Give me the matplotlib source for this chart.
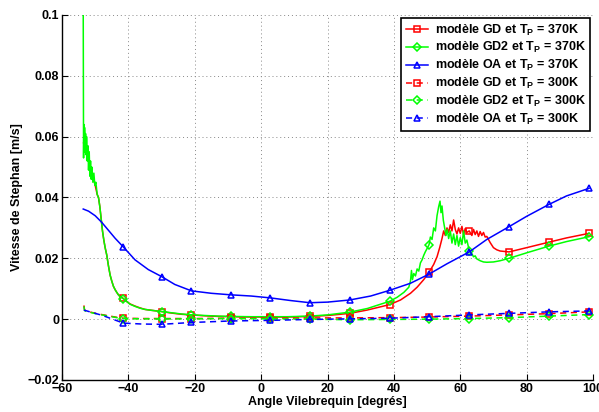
import numpy as np
import matplotlib
matplotlib.use("Agg")
import matplotlib.pyplot as plt

plt.rcParams['font.family'] = ['Liberation Sans', 'DejaVu Sans']
plt.rcParams['font.weight'] = 'bold'
plt.rcParams['mathtext.fontset'] = 'custom'
plt.rcParams['mathtext.rm'] = 'Liberation Sans:bold'
plt.rcParams['mathtext.it'] = 'Liberation Sans:bold'
plt.rcParams['mathtext.bf'] = 'Liberation Sans:bold'

# angles where the markers sit
mk_x = [-41.5, -30, -21, -9.2, 2.7, 14.7, 26.7, 38.8, 50.6, 62.7, 74.7, 86.7, 98.8]

# GD2, Tp = 370K (green, solid)
gd2_370_x = [-53.6, -53.5, -53.4, -53.3, -53.2, -53.0, -52.9, -52.7, -52.6, -52.4, -52.2, -52.0,
             -51.8, -51.6, -51.4, -51.2, -51.0, -50.7, -50.4, -50.1, -49.8, -49.4, -49.0, -48.6,
             -48.2, -47.8, -47.4, -47.0, -46.5, -46.0, -45.5, -45.0, -44.5, -44.0, -43.5, -43.0,
             -42.5, -41.5, -40.5, -39.5, -38.0, -36.5, -35.0, -33.0, -31.5, -30, -27, -24, -21,
             -17, -13, -9.2, -3, 2.7, 8, 14.7, 20, 26.7, 32, 38.8, 41, 43, 44.5, 45, 45.3, 45.6,
             46, 46.5, 47, 47.5, 48, 48.5, 49, 49.5, 50, 50.6, 51, 51.5, 52, 52.5, 53, 53.5, 53.9,
             54.2, 54.5, 54.9, 55.3, 55.7, 56.1, 56.5, 57, 57.5, 58, 58.5, 59, 59.5, 60, 60.5, 61,
             61.5, 62, 62.7, 63.5, 64, 64.5, 65, 66, 67, 68, 70, 72, 74.7, 80, 86.7, 92, 98.8]
gd2_370_y = [0.100, 0.053, 0.064, 0.055, 0.063, 0.056, 0.061, 0.054, 0.060, 0.052, 0.057, 0.049,
             0.055, 0.047, 0.052, 0.046, 0.050, 0.045, 0.048, 0.044, 0.045, 0.041, 0.040, 0.037,
             0.033, 0.029, 0.026, 0.0235, 0.021, 0.0175, 0.0145, 0.0125, 0.0108, 0.0097, 0.0088,
             0.0080, 0.0074, 0.0067, 0.0058, 0.0049, 0.0042, 0.0036, 0.0032, 0.0029, 0.0027,
             0.0025, 0.0021, 0.0017, 0.0014, 0.0012, 0.0010, 0.0009, 0.0008, 0.0008, 0.0008,
             0.0010, 0.0014, 0.0023, 0.0035, 0.0059, 0.0072, 0.0088, 0.0105, 0.0125, 0.0160,
             0.0130, 0.0150, 0.0142, 0.0165, 0.0158, 0.0185, 0.0195, 0.0210, 0.0222, 0.0232,
             0.0245, 0.0270, 0.0262, 0.0300, 0.0290, 0.0340, 0.0370, 0.0388, 0.0350, 0.0372,
             0.0325, 0.0300, 0.0275, 0.0295, 0.0265, 0.0290, 0.0250, 0.0280, 0.0245, 0.0275,
             0.0240, 0.0268, 0.0245, 0.0290, 0.0250, 0.0260, 0.0225, 0.0215, 0.0205, 0.0208,
             0.0198, 0.0192, 0.0188, 0.0187, 0.0188, 0.0192, 0.0200, 0.0218, 0.0240, 0.0255, 0.0271]

# GD, Tp = 370K (red, solid)
gd_370_x = [-53.5, -53.0, -52.5, -52.0, -51.5, -51.0, -50.5, -50.0, -49.4, -49.0, -48.6, -48.2,
            -47.8, -47.4, -47.0, -46.5, -46.0, -45.5, -45.0, -44.5, -44.0, -43.5, -43.0, -42.5,
            -41.5, -40.5, -39.5, -38.0, -36.5, -35.0, -33.0, -30, -27, -24, -21, -17, -13, -9.2,
            -3, 2.7, 8, 14.7, 20, 26.7, 32, 38.8, 42, 45, 47, 49, 50.6, 52, 53, 53.8, 54.5, 55,
            55.5, 56, 56.5, 57, 57.5, 58, 58.5, 59, 59.5, 60, 60.5, 61, 61.5, 62, 62.7, 63.5, 64,
            64.5, 65, 65.5, 66, 66.5, 67, 67.5, 68, 69, 70, 71, 72, 74.7, 80, 86.7, 92, 98.8]
gd_370_y = [0.058, 0.060, 0.055, 0.052, 0.050, 0.048, 0.046, 0.044, 0.041, 0.040, 0.037, 0.033,
            0.029, 0.026, 0.0235, 0.021, 0.0175, 0.0145, 0.0125, 0.0108, 0.0097, 0.0088, 0.0080,
            0.0074, 0.0068, 0.0058, 0.0050, 0.0043, 0.0037, 0.0032, 0.0029, 0.0025, 0.0020,
            0.0016, 0.0014, 0.0011, 0.0009, 0.0008, 0.0007, 0.0007, 0.0007, 0.0009, 0.0012,
            0.0019, 0.0030, 0.0048, 0.0063, 0.0085, 0.0105, 0.0130, 0.0154, 0.0180, 0.0205,
            0.0235, 0.0265, 0.0290, 0.0275, 0.0300, 0.0285, 0.0310, 0.0290, 0.0326, 0.0295,
            0.0280, 0.0300, 0.0282, 0.0305, 0.0278, 0.0298, 0.0285, 0.0290, 0.0275, 0.0295,
            0.0278, 0.0290, 0.0272, 0.0288, 0.0275, 0.0285, 0.0270, 0.0272, 0.0252, 0.0235,
            0.0228, 0.0224, 0.0221, 0.0235, 0.0253, 0.0267, 0.0282]

# OA, Tp = 370K (blue, solid)
oa_370_x = [-53.6, -52, -50, -48, -46, -44, -41.5, -38, -34, -30, -26, -21, -15, -9.2, -3, 2.7,
            9, 14.7, 20, 26.7, 33, 38.8, 45, 50.6, 56, 62.7, 68, 74.7, 80, 86.7, 92, 98.8]
oa_370_y = [0.0362, 0.0355, 0.0340, 0.0318, 0.0292, 0.0266, 0.0237, 0.0195, 0.0163, 0.0140,
            0.0114, 0.0093, 0.0085, 0.0080, 0.0076, 0.0070, 0.0061, 0.0054, 0.0056, 0.0063,
            0.0076, 0.0095, 0.0118, 0.0148, 0.0182, 0.0221, 0.0262, 0.0304, 0.0338, 0.0377,
            0.0405, 0.0430]

# Tp = 300K (dashed)
t300_x = [-53.4, -53.2, -52.5, -51, -49, -47, -45, -43, -41.5, -36, -30, -21, -9.2, 2.7, 14.7,
          26.7, 38.8, 50.6, 62.7, 74.7, 86.7, 98.8]
gd_300_y = [0.0045, 0.0030, 0.0026, 0.0022, 0.0017, 0.0013, 0.0009, 0.0005, 0.0003, 0.0002,
            0.0002, 0.0002, 0.0003, 0.0003, 0.0004, 0.0004, 0.0005, 0.0007, 0.0010, 0.0014,
            0.0018, 0.0024]
gd2_300_y = [0.0042, 0.0028, 0.0025, 0.0021, 0.0016, 0.0012, 0.0008, 0.0004, 0.0002, 0.0001,
             0.0001, 0.0001, 0.0002, 0.0001, 0.0000, -0.0002, -0.0001, 0.0000, 0.0002, 0.0005,
             0.0010, 0.0015]
oa_300_y = [0.0030, 0.0029, 0.0027, 0.0022, 0.0016, 0.0009, 0.0001, -0.0007, -0.0013, -0.0016,
            -0.0017, -0.0011, -0.0006, -0.0004, -0.0001, 0.0001, 0.0003, 0.0008, 0.0014, 0.0019,
            0.0024, 0.0027]

labels = [r'modèle GD et T$_\mathregular{P}$ = 370K',
          r'modèle GD2 et T$_\mathregular{P}$ = 370K',
          r'modèle OA et T$_\mathregular{P}$ = 370K',
          r'modèle GD et T$_\mathregular{P}$ = 300K',
          r'modèle GD2 et T$_\mathregular{P}$ = 300K',
          r'modèle OA et T$_\mathregular{P}$ = 300K']


def marks(xs):
    return [i for i, v in enumerate(xs) if v in mk_x]


fig = plt.figure(figsize=(5.99, 4.12), dpi=100)
ax = fig.add_axes([0.1035, 0.0777, 0.8865, 0.886])

series = [
    (gd_370_x, gd_370_y, 'red', 's', '-'),
    (gd2_370_x, gd2_370_y, 'lime', 'D', '-'),
    (oa_370_x, oa_370_y, 'blue', '^', '-'),
    (t300_x, gd_300_y, 'red', 's', '--'),
    (t300_x, gd2_300_y, 'lime', 'D', '--'),
    (t300_x, oa_300_y, 'blue', '^', '--'),
]
for (xs, ys, c, m, ls), lab in zip(series, labels):
    ms = 3.8 if m == 'D' else 4.6
    ax.plot(xs, ys, color=c, ls=ls, lw=1.1, marker=m, ms=ms, mfc='none', mec=c, mew=1.1,
            markevery=marks(xs), label=lab, dashes=(4, 3) if ls == '--' else (None, None))

ax.set_xlim(-60, 100)
ax.set_ylim(-0.02, 0.1)
ax.set_xticks(np.arange(-60, 101, 20))
ax.set_yticks([-0.02, 0, 0.02, 0.04, 0.06, 0.08, 0.1])
ax.set_yticklabels(['\u22120.02', '0', '0.02', '0.04', '0.06', '0.08', '0.1'])
ax.set_xticklabels(['\u221260', '\u221240', '\u221220', '0', '20', '40', '60', '80', '100'])
ax.tick_params(direction='in', labelsize=9, length=4, width=0.8, pad=2)
for s in ['top', 'right']:
    ax.spines[s].set_visible(False)
ax.spines['left'].set_linewidth(1.0)
ax.spines['bottom'].set_linewidth(1.0)
ax.grid(True, ls=(0, (1, 3)), color='#888888', lw=0.7)
ax.set_axisbelow(True)

ax.set_xlabel('Angle Vilebrequin [degrés]', fontsize=9, fontweight='bold', labelpad=1)
ax.set_ylabel('Vitesse de Stephan [m/s]', fontsize=9, fontweight='bold', labelpad=3)

leg = ax.legend(loc='upper right', fontsize=9, frameon=True, fancybox=False,
                edgecolor='black', framealpha=1, handlelength=1.8, borderaxespad=0.25,
                labelspacing=0.22, handletextpad=0.5, borderpad=0.35)
leg.get_frame().set_linewidth(1.2)

fig.savefig('out.png', dpi=100)
